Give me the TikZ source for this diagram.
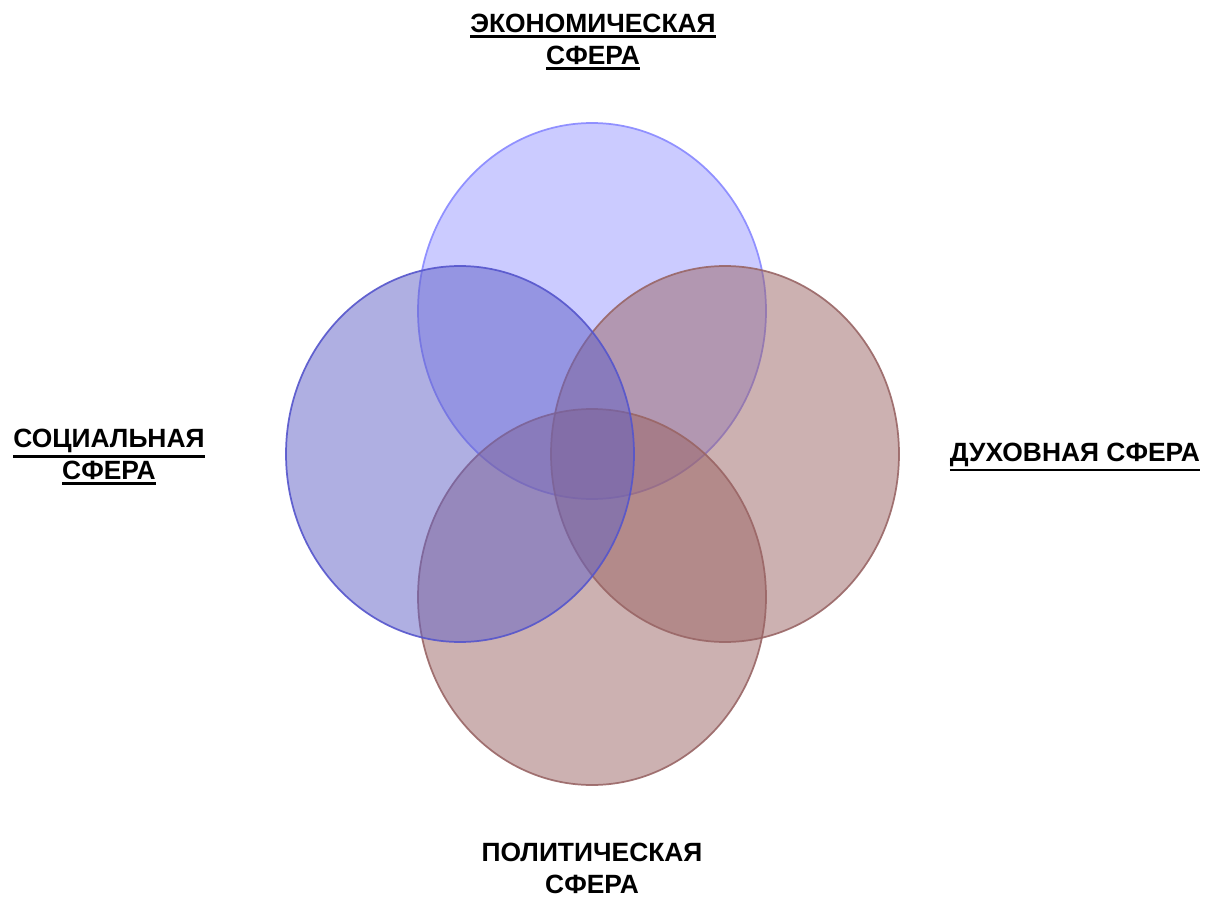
\documentclass[tikz,border=0pt]{standalone}
\usepackage{fontspec}
\setmainfont{Liberation Sans}
\newcommand\myul[1]{\leavevmode\vtop{\hbox{#1}\kern1.8pt\hrule height 1.8pt}}
\definecolor{topfill}{HTML}{9999FF}
\definecolor{topline}{HTML}{8888FF}
\definecolor{leftfill}{HTML}{6161C7}
\definecolor{leftline}{HTML}{5555CC}
\definecolor{brownfill}{HTML}{9B6565}
\definecolor{brownline}{HTML}{996666}
\begin{document}
\begin{tikzpicture}[x=0.75pt,y=-0.75pt,
  sphere/.style={line width=1.3pt, fill opacity=0.5, draw opacity=0.9},
  lbl/.style={font=\bfseries\fontsize{19.8}{24}\selectfont, align=center, inner sep=0pt}]
\useasboundingbox (0,0) rectangle (1207,899);
\fill[white] (0,0) rectangle (1207,899);
\draw[sphere, fill=topfill, draw=topline] (592,311) ellipse [x radius=130.5pt, y radius=141pt];
\draw[sphere, fill=brownfill, draw=brownline] (592,597) ellipse [x radius=130.5pt, y radius=141pt];
\draw[sphere, fill=brownfill, draw=brownline] (725,454) ellipse [x radius=130.5pt, y radius=141pt];
\draw[sphere, fill=leftfill, draw=leftline] (460,454) ellipse [x radius=130.5pt, y radius=141pt];
\node[lbl] (eco) at (593,42) {\myul{ЭКОНОМИЧЕСКАЯ}\\\myul{СФЕРА}};
\node[lbl] (soc) at (109,457) {\myul{СОЦИАЛЬНАЯ}\\\myul{СФЕРА}};
\node[lbl] (duh) at (1075,457) {\myul{ДУХОВНАЯ СФЕРА}};
\node[lbl] (pol) at (592,868) {ПОЛИТИЧЕСКАЯ\\СФЕРА};
\end{tikzpicture}
\end{document}
